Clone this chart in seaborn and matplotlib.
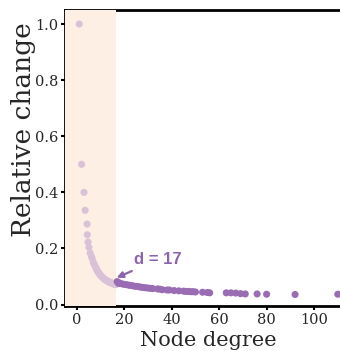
import matplotlib
matplotlib.use("Agg")
from matplotlib import pyplot as plt
import pandas as pd
import seaborn as sns

# light points: node degree below the cut-off
low_degree = [1, 2, 3, 3.5, 4.3, 4.4, 4.7, 5.1, 5.6, 6.1, 6.5, 6.9, 7.2, 7.6, 8.0, 8.3,
              8.7, 9.0, 9.4, 9.8, 10.1, 10.5, 10.9, 11.3, 11.6, 12.0, 12.4, 12.8,
              13.2, 13.6, 14.0, 14.4, 14.8, 15.2, 15.6, 16.0, 16.4]
low_change = [1.0, 0.5, 0.40, 0.336, 0.287, 0.249, 0.223, 0.204, 0.184, 0.172, 0.164,
              0.150, 0.147, 0.138, 0.133, 0.124, 0.121, 0.114, 0.112, 0.105, 0.104,
              0.099, 0.097, 0.093, 0.091, 0.088, 0.087, 0.084, 0.083, 0.080, 0.080,
              0.077, 0.077, 0.074, 0.074, 0.072, 0.071]

# dark points: node degree from the cut-off on
high_degree = [17, 17.5, 18, 19, 20, 21, 22, 23, 24, 25, 26, 27, 28, 29, 30, 31, 32,
               34, 35, 36, 38, 39, 41, 43, 45, 46, 47, 48, 49, 50, 53, 55, 56,
               63, 65, 67, 69, 71, 76, 80, 92, 110]
high_change = [0.082, 0.076, 0.077, 0.074, 0.072, 0.071, 0.069, 0.068, 0.066, 0.065,
               0.064, 0.062, 0.061, 0.060, 0.059, 0.058, 0.057, 0.056, 0.055, 0.053,
               0.052, 0.052, 0.050, 0.049, 0.048, 0.047, 0.047, 0.046, 0.046, 0.045,
               0.044, 0.043, 0.042, 0.042, 0.042, 0.041, 0.039, 0.038, 0.038, 0.037,
               0.036, 0.037]

cutoff = 17
cutoff_label = "d = 17"

df = pd.concat([
    pd.DataFrame({"degree": low_degree, "change": low_change, "group": "low"}),
    pd.DataFrame({"degree": high_degree, "change": high_change, "group": "high"}),
])

sns.set_style("ticks")
plt.rcParams["font.family"] = ["DejaVu Serif"]

fig = plt.figure(figsize=(3.4, 3.51), dpi=100)
ax = fig.add_axes([65 / 340, 45 / 351, 287 / 340, 296 / 351])

ax.axvspan(-5, cutoff - 0.5, color="#fdefe3", zorder=2.6, lw=0)  # shaded low-degree band

sns.scatterplot(data=df, x="degree", y="change", hue="group", ax=ax,
                palette={"low": "#d9c2d8", "high": "#9a6cb4"},
                s=26, linewidth=0, legend=False, zorder=3)

ax.annotate(cutoff_label, xy=(cutoff - 0.2, 0.096), xytext=(24, 0.16),
            color="#8c64ad", fontsize=12, fontweight="bold",
            family=["Liberation Sans"], va="center", ha="left",
            arrowprops=dict(arrowstyle="-|>", color="#8c64ad", lw=1.6,
                            mutation_scale=9, shrinkA=1, shrinkB=0))

ax.set_xlim(-5, 116)
ax.set_ylim(-0.005, 1.05)
ax.set_xticks([0, 20, 40, 60, 80, 100])
ax.set_yticks([0.0, 0.2, 0.4, 0.6, 0.8, 1.0])
ax.set_xlabel("Node degree", fontsize=15, labelpad=3)
ax.set_ylabel("Relative change", fontsize=19)
ax.yaxis.set_label_coords(-0.1, 0.595)  # label sits above the axis centre
ax.tick_params(labelsize=10.5, length=3, width=1.5, color="black", pad=2)

for side in ["left", "bottom", "top", "right"]:
    ax.spines[side].set_linewidth(2)
    ax.spines[side].set_color("black")

fig.savefig("out.png", dpi=100)
